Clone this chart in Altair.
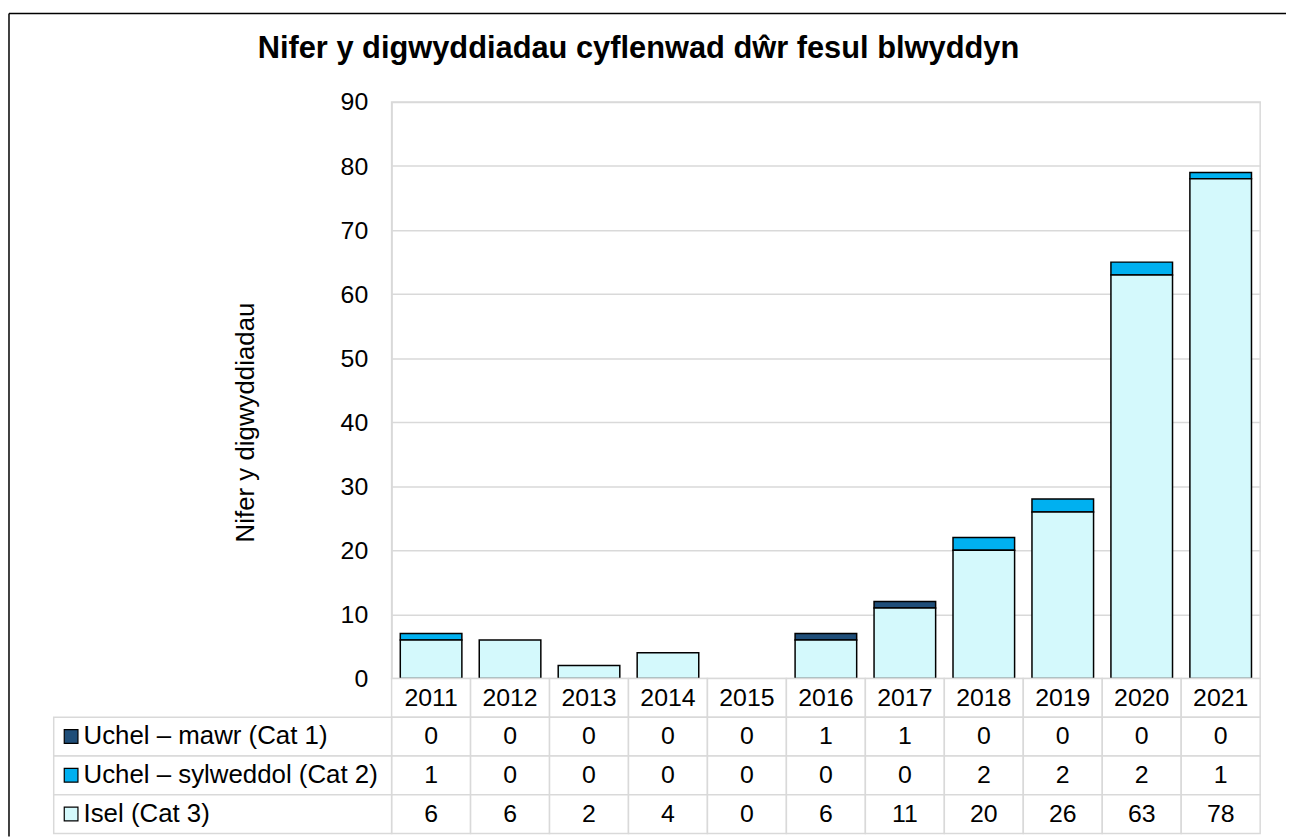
import altair as alt
import pandas as pd

# ---------------- data ----------------
years = ["2011", "2012", "2013", "2014", "2015", "2016", "2017", "2018", "2019", "2020", "2021"]
series = ["Uchel – mawr (Cat 1)", "Uchel – sylweddol (Cat 2)", "Isel (Cat 3)"]
colors = ["#1f4e79", "#00b0f0", "#d4f9fc"]
cat1 = [0, 0, 0, 0, 0, 1, 1, 0, 0, 0, 0]
cat2 = [1, 0, 0, 0, 0, 0, 0, 2, 2, 2, 1]
cat3 = [6, 6, 2, 4, 0, 6, 11, 20, 26, 63, 78]
stack_order = [2, 1, 0]  # Cat 3 at the bottom
y_ticks = [0, 10, 20, 30, 40, 50, 60, 70, 80, 90]
chart_title = "Nifer y digwyddiadau cyflenwad dŵr fesul blwyddyn"
y_title = "Nifer y digwyddiadau"
header_key = "Blwyddyn"

FONT = "Liberation Sans"
W, H = 874, 580
ROW = 39
GRID = "#d9d9d9"

values = [cat1, cat2, cat3]
long = pd.DataFrame([
    {"year": y, "series": s, "value": vals[i], "order": o}
    for s, vals, o in zip(series, values, stack_order)
    for i, y in enumerate(years)
])

rows_domain = [header_key] + series
cells = pd.DataFrame(
    [{"year": y, "row": header_key, "label": y} for y in years]
    + [{"year": y, "row": s, "label": str(vals[i])}
       for s, vals in zip(series, values) for i, y in enumerate(years)]
)
legend_df = pd.DataFrame({"row": series})
dummy = pd.DataFrame({"a": [0]})

x_scale = alt.Scale(domain=years, paddingInner=0, paddingOuter=0)
color_scale = alt.Scale(domain=series, range=colors)
row_scale = alt.Scale(domain=rows_domain, range=[H, H + 4 * ROW], paddingInner=0, paddingOuter=0)

# ---------------- bars ----------------
bars = alt.Chart(long).transform_filter("datum.value > 0").mark_bar(
    width=alt.RelativeBandSize(0.78), stroke="black", strokeWidth=1.5
).encode(
    x=alt.X("year:N", scale=x_scale, axis=None),
    y=alt.Y("value:Q", stack="zero",
            scale=alt.Scale(domain=[0, 90], nice=False),
            axis=alt.Axis(values=y_ticks, title=y_title, grid=True, gridColor=GRID,
                          gridWidth=1.5, ticks=False, domain=True, domainColor=GRID,
                          domainWidth=1.5, labelPadding=24, labelFontSize=25,
                          labelFont=FONT, labelColor="black", titleFont=FONT,
                          titleFontSize=26, titleFontWeight="normal",
                          titleColor="black", titleX=-134, titleY=322,
                          titleAngle=270, titleAlign="center", titleBaseline="bottom")),
    color=alt.Color("series:N", scale=color_scale, legend=None),
    order=alt.Order("order:Q"),
)

# ---------------- data table ----------------
cell_rects = alt.Chart(cells).mark_rect(fill="white", stroke=GRID, strokeWidth=1.5).encode(
    x=alt.X("year:N", scale=x_scale, axis=None),
    y=alt.Y("row:N", scale=row_scale, axis=None),
)
cell_text = alt.Chart(cells).mark_text(font=FONT, fontSize=25, color="black", baseline="middle").encode(
    x=alt.X("year:N", scale=x_scale, axis=None),
    y=alt.Y("row:N", scale=row_scale, axis=None),
    text="label:N",
)
legend_rects = alt.Chart(legend_df).mark_rect(fill="white", stroke=GRID, strokeWidth=1.5).encode(
    x=alt.value(-340), x2=alt.value(0),
    y=alt.Y("row:N", scale=row_scale, axis=None),
)
legend_swatch = alt.Chart(legend_df).mark_square(size=190, filled=True, stroke="black",
                                                 strokeWidth=1.2, opacity=1).encode(
    x=alt.value(-322.5),
    y=alt.Y("row:N", scale=row_scale, axis=None),
    color=alt.Color("row:N", scale=color_scale, legend=None),
)
legend_text = alt.Chart(legend_df).mark_text(font=FONT, fontSize=26, color="black",
                                             align="left", baseline="middle").encode(
    x=alt.value(-310),
    y=alt.Y("row:N", scale=row_scale, axis=None),
    text="row:N",
)
border_top = alt.Chart(dummy).mark_rule(color="black", strokeWidth=1.5).encode(
    x=alt.value(-385), x2=alt.value(900), y=alt.value(-89))
border_left = alt.Chart(dummy).mark_rule(color="black", strokeWidth=1.5).encode(
    x=alt.value(-385), y=alt.value(-89), y2=alt.value(739))

table = alt.layer(cell_rects, cell_text, legend_rects, legend_swatch, legend_text,
                  border_top, border_left)

chart = alt.layer(bars, table).resolve_scale(y="independent").properties(
    width=W, height=H,
    padding={"left": 0, "top": 2, "right": 0, "bottom": 0},
    title=alt.TitleParams(text=chart_title, font=FONT, fontSize=31, fontWeight="bold",
                          color="black", anchor="start", frame="bounds", dx=251,
                          offset=-76, baseline="alphabetic"),
).configure_view(stroke=GRID, strokeWidth=1.5)

chart.save("out.html", embed_options={"renderer": "svg", "actions": False})
